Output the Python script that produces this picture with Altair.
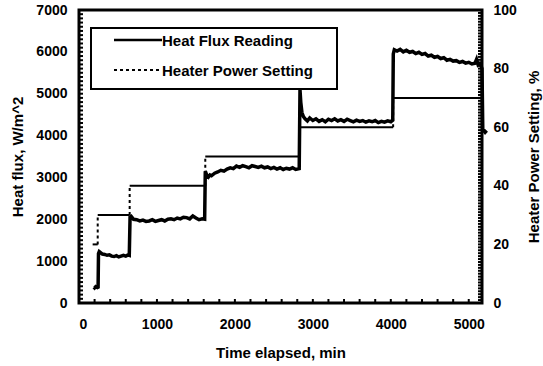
import altair as alt
import pandas as pd

# ---- data ----
read_t = [190, 200, 215, 235, 245,
          250, 260, 280, 300, 330, 360, 390, 420, 450, 480, 510, 540, 570, 600, 630, 645,
          655, 670, 700, 740, 780, 820, 860, 900, 940, 980, 1020, 1060, 1100, 1140, 1180, 1220,
          1260, 1300, 1340, 1380, 1420, 1460, 1500, 1540, 1580, 1612,
          1620, 1640, 1660, 1680, 1700, 1740, 1780, 1820, 1860, 1900, 1940, 1980, 2020, 2060,
          2100, 2140, 2180, 2220, 2260, 2300, 2340, 2380, 2420, 2460, 2500, 2540, 2580, 2620,
          2660, 2700, 2740, 2780, 2825,
          2835, 2845, 2860, 2880, 2900, 2930, 2960, 3000, 3040, 3080, 3120, 3160, 3200, 3240,
          3280, 3320, 3360, 3400, 3440, 3480, 3520, 3560, 3600, 3640, 3680, 3720, 3760, 3800,
          3840, 3880, 3920, 3960, 4000, 4025,
          4032, 4045, 4080, 4120, 4160, 4200, 4240, 4280, 4320, 4360, 4400, 4440, 4480, 4520,
          4560, 4600, 4640, 4680, 4720, 4760, 4800, 4840, 4880, 4920, 4960, 5000, 5040, 5080,
          5100, 5120, 5140, 5160, 5170, 5180, 5210, 5230]
read_v = [380, 360, 390, 370, 380,
          1180, 1230, 1200, 1170, 1160, 1140, 1150, 1120, 1110, 1130, 1100, 1120, 1140, 1120, 1150, 1140,
          2050, 2070, 2000, 1990, 1960, 1980, 1950, 1960, 1990, 1950, 1970, 1990, 1960, 2000, 2010, 1990,
          2030, 2010, 2050, 2040, 2010, 2080, 2030, 1990, 2010, 2000,
          3150, 3050, 3010, 3060, 3040, 3100, 3130, 3170, 3150, 3200, 3230, 3210, 3270, 3240,
          3280, 3260, 3230, 3280, 3260, 3240, 3270, 3230, 3250, 3210, 3240, 3200, 3230, 3190,
          3220, 3200, 3230, 3190, 3210,
          5100, 4800, 4550, 4450, 4400, 4350, 4420, 4360, 4400, 4340, 4380, 4330, 4390, 4360,
          4400, 4350, 4380, 4340, 4390, 4360, 4330, 4370, 4340, 4360, 4320, 4350, 4330, 4360,
          4310, 4340, 4320, 4350, 4330, 4370,
          5950, 6050, 6020, 6060, 6000, 6040, 5990, 6010, 5960, 5990, 5940, 5960, 5900, 5920,
          5870, 5890, 5840, 5860, 5800, 5820, 5780, 5790, 5750, 5770, 5730, 5750, 5710, 5730,
          5820, 5690, 5720, 5650, 5600, 4150, 4080, 4120]

power_start = [175, 240, 650, 1620, 2830, 4030]
power_end = [240, 650, 1620, 2830, 4030, 5170]
power_pct = [20, 30, 40, 50, 60, 70]

x_ticks_major = [0, 1000, 2000, 3000, 4000, 5000]
y_left_major = [0, 1000, 2000, 3000, 4000, 5000, 6000, 7000]
y_right_major = [0, 20, 40, 60, 80, 100]

legend_labels = ["Heat Flux Reading", "Heater Power Setting"]

W, H = 403, 293
FONT = "Liberation Sans"

read_df = pd.DataFrame({"t": read_t, "v": read_v})
horiz_df = pd.DataFrame({"t": power_start, "t2": power_end, "p": power_pct})
vert_df = pd.DataFrame({"t": power_start[1:], "p": power_pct[:-1], "p2": power_pct[1:]})
xminor_df = pd.DataFrame({"t": list(range(200, 5200, 200))})
yminor_left_df = pd.DataFrame({"v": list(range(100, 7000, 100))})
yminor_right_df = pd.DataFrame({"p": list(range(1, 100, 1))})
one_df = pd.DataFrame({"k": [0]})

x_scale = alt.Scale(domain=[0, 5170], nice=False, zero=False)
yl_scale = alt.Scale(domain=[0, 7000], nice=False)
yr_scale = alt.Scale(domain=[0, 100], nice=False)

x_axis = alt.Axis(values=x_ticks_major, title="Time elapsed, min", tickSize=0, domain=False,
                  grid=False, labelPadding=14, titleY=49, titleBaseline="middle", format="d",
                  labelFontSize=14, titleFontSize=15)

reading = alt.Chart(read_df).mark_line(color="black", strokeWidth=3.5).encode(
    x=alt.X("t:Q", scale=x_scale, axis=x_axis),
    y=alt.Y("v:Q", scale=yl_scale, axis=alt.Axis(
        values=y_left_major, title="Heat flux, W/m^2", tickSize=0, domain=False, grid=False,
        labelPadding=12, titleAngle=270, titleX=-62, titleY=H / 2, titleBaseline="middle",
        titleAlign="center", labelFontSize=14, titleFontSize=15, format="d")),
    order="t:Q",
)

left_ticks = alt.Chart(yminor_left_df).mark_rule(color="black", strokeWidth=2).encode(
    y=alt.Y("v:Q", scale=yl_scale, axis=None), x=alt.value(0), x2=alt.value(4))
bottom_ticks = alt.Chart(xminor_df).mark_rule(color="black", strokeWidth=2).encode(
    x=alt.X("t:Q", scale=x_scale, axis=None), y=alt.value(H), y2=alt.value(H - 4))

power_h = alt.Chart(horiz_df).mark_rule(color="black", strokeWidth=2).encode(
    x=alt.X("t:Q", scale=x_scale, axis=None), x2="t2:Q",
    y=alt.Y("p:Q", scale=yr_scale, axis=alt.Axis(
        orient="right", values=y_right_major, title="Heater Power Setting, %", tickSize=0,
        domain=False, grid=False, labelPadding=11, titleAngle=270, titleX=51, titleY=H / 2,
        titleBaseline="middle", titleAlign="center", labelFontSize=14, titleFontSize=15)),
)
power_v = alt.Chart(vert_df).mark_rule(color="black", strokeWidth=2, strokeDash=[3, 3]).encode(
    x=alt.X("t:Q", scale=x_scale, axis=None),
    y=alt.Y("p:Q", scale=yr_scale, axis=None), y2="p2:Q",
)
right_ticks = alt.Chart(yminor_right_df).mark_rule(color="black", strokeWidth=2).encode(
    y=alt.Y("p:Q", scale=yr_scale, axis=None), x=alt.value(W - 4), x2=alt.value(W))

# legend box, samples and labels
leg_box = alt.Chart(one_df).mark_rect(fill="white", stroke="black", strokeWidth=2).encode(
    x=alt.value(12), x2=alt.value(258), y=alt.value(18), y2=alt.value(79))
leg_line1 = alt.Chart(one_df).mark_rule(color="black", strokeWidth=2.5).encode(
    x=alt.value(35), x2=alt.value(83), y=alt.value(30))
leg_line2 = alt.Chart(one_df).mark_rule(color="black", strokeWidth=2, strokeDash=[3, 3]).encode(
    x=alt.value(35), x2=alt.value(83), y=alt.value(60))
leg_text1 = alt.Chart(one_df).mark_text(
    align="left", baseline="middle", font=FONT, fontWeight="bold", fontSize=15, color="black"
).encode(x=alt.value(83), y=alt.value(30.5), text=alt.value(legend_labels[0]))
leg_text2 = alt.Chart(one_df).mark_text(
    align="left", baseline="middle", font=FONT, fontWeight="bold", fontSize=15, color="black"
).encode(x=alt.value(83), y=alt.value(61), text=alt.value(legend_labels[1]))

chart = alt.layer(
    reading, left_ticks, bottom_ticks, power_h, power_v, right_ticks,
    leg_box, leg_line1, leg_line2, leg_text1, leg_text2,
).resolve_scale(y="independent").resolve_axis(x="independent").properties(
    width=W, height=H,
    autosize=alt.AutoSizeParams(type="none"),
    padding={"left": 79, "top": 10, "right": 61, "bottom": 63},
    background="white",
).configure_view(stroke="black", strokeWidth=3).configure_axis(
    labelFont=FONT, titleFont=FONT, labelFontWeight="bold", titleFontWeight="bold",
    labelColor="black", titleColor="black",
)

chart.save("out.html", embed_options={"renderer": "svg", "actions": False})
